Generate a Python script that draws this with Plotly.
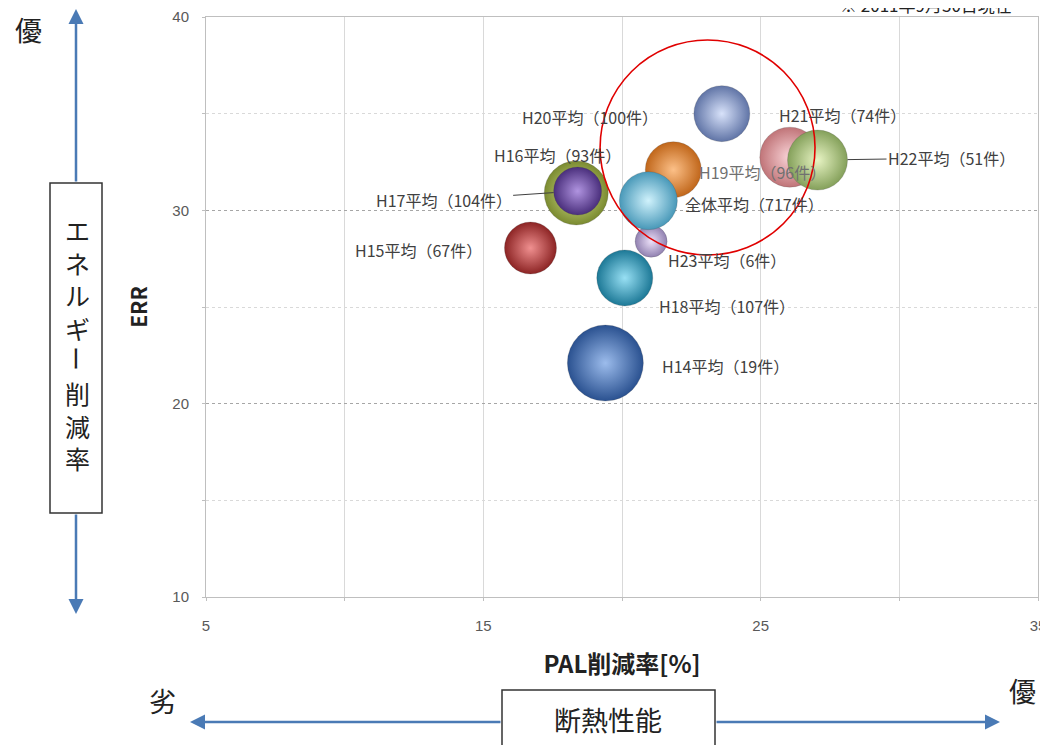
import plotly.graph_objects as go

# ---- data ----
labels = ["H14平均（19件）", "H15平均（67件）", "H16平均（93件）", "H17平均（104件）",
          "H18平均（107件）", "H19平均（96件）", "H20平均（100件）", "H21平均（74件）",
          "H22平均（51件）", "H23平均（6件）", "全体平均（717件）"]
pal_reduction = [19.4, 16.7, 18.35, 18.4, 20.1, 21.85, 23.6, 26.05, 27.05, 21.05, 20.95]
err_values = [22.1, 28.05, 30.9, 31.0, 26.5, 32.1, 35.0, 32.75, 32.6, 28.4, 30.5]
bubble_value = [76, 52, 64, 48, 56, 56, 56, 60, 60, 32, 58]

x_ticks = [5, 15, 25, 35]
y_ticks = [10, 20, 30, 40]

# ---- styles ----
edge_colors = ["#2a5190", "#8c2424", "#7a8a30", "#4a2f7c", "#1c7896", "#c0661a",
               "#6074a6", "#c07478", "#84a05a", "#9080b0", "#4898b8"]
center_colors = ["#9cbcec", "#f09090", "#dce890", "#b094e0", "#98e0f4", "#fcc088",
                 "#d8e2fa", "#fad4d8", "#e8f4c4", "#ece0f8", "#d0f2fc"]
label_shift = [(120, -3), (-112, -2), (-19, 38), None, (102, -28), (89, -2),
               (-132, -3), (53, 42), None, (76, -19), (106, -3)]
label_arrow = {3: (-134, 9), 8: (134, -2)}

OFF = 8  # page body margin
FW, FH = 1048 - OFF, 745 - OFF

fig = go.Figure()
fig.add_trace(go.Scatter(
    x=pal_reduction, y=err_values, mode="markers",
    marker=dict(size=bubble_value, sizemode="diameter", sizeref=1,
                color=edge_colors, opacity=1,
                gradient=dict(type="radial", color=center_colors),
                line=dict(width=0.5, color="rgba(60,60,60,0.4)")),
    hovertext=labels, showlegend=False))

ann = []
for i, lab in enumerate(labels):
    if i in label_arrow:
        ax, ay = label_arrow[i]
        ann.append(dict(x=pal_reduction[i], y=err_values[i], xref="x", yref="y",
                        text=lab, showarrow=True, arrowhead=0, arrowwidth=1,
                        arrowcolor="#404040", ax=ax, ay=ay,
                        standoff=bubble_value[i] / 2,
                        font=dict(family="Noto Sans CJK JP", size=16, color="#404040")))
    else:
        xs, ys = label_shift[i]
        c = "#707070" if i == 5 else "#404040"
        ann.append(dict(x=pal_reduction[i], y=err_values[i], xref="x", yref="y",
                        text=lab, showarrow=False, xshift=xs, yshift=ys,
                        xanchor="center", yanchor="middle",
                        font=dict(family="Noto Sans CJK JP", size=16, color=c)))

# helpers for pixel-placed decorations outside the plot (reference pixel coords)
L, T, W, H = 206 - OFF, 17 - OFF, 832, 580
def px(xp):
    return (xp - OFF - L) / W
def py(yp):
    return (T + H - (yp - OFF)) / H

arrow_col = "#4a7ab5"
def arrow(xh, yh, ax, ay):
    ann.append(dict(x=px(xh), y=py(yh), xref="paper", yref="paper", text="",
                    showarrow=True, arrowhead=2, arrowsize=1.2, arrowwidth=2.5,
                    arrowcolor=arrow_col, ax=ax, ay=ay))
arrow(76, 6, 0, 177)
arrow(76, 614, 0, -101)
arrow(190, 722, 312, 0)
arrow(1000, 722, -285, 0)

def text_at(xp, yp, t, size, color="#222222", angle=0):
    ann.append(dict(x=px(xp), y=py(yp), xref="paper", yref="paper", text=t,
                    showarrow=False, xanchor="center", yanchor="middle", textangle=angle,
                    borderpad=0,
                    font=dict(family="Noto Sans CJK JP", size=size, color=color)))

text_at(28, 30, "優", 27)
text_at(162, 700, "劣", 27)
text_at(1022, 690, "優", 27)
text_at(608, 719, "断熱性能", 27)
# vertical caption: エネルギー削減率 (the long-vowel mark is rotated as in vertical writing)
text_at(77, 279, "エ<br>ネ<br>ル<br>ギ", 25)
text_at(77, 358, "ー", 25, angle=90)
text_at(77, 425, "削<br>減<br>率", 25)
text_at(926, 5, "※ 2011年9月30日現在", 17, color="#222222")

shapes = [
    dict(type="rect", xref="paper", yref="paper", x0=px(50), x1=px(102), y0=py(183), y1=py(513),
         line=dict(color="#333333", width=1.5), fillcolor="white", layer="below"),
    dict(type="rect", xref="paper", yref="paper", x0=px(502), x1=px(715), y0=py(690), y1=py(760),
         line=dict(color="#333333", width=1.5), fillcolor="white", layer="below"),
    dict(type="circle", xref="x", yref="y", x0=19.21, x1=26.96, y0=27.69, y1=38.81,
         line=dict(color="#e00000", width=1.6)),
]

fig.update_layout(
    width=FW, height=FH,
    margin=dict(l=L, r=FW - L - W, t=T, b=FH - T - H, autoexpand=False),
    paper_bgcolor="white", plot_bgcolor="rgba(0,0,0,0)",
    font=dict(family="Noto Sans CJK JP"),
    annotations=ann, shapes=shapes,
    xaxis=dict(range=[5, 35], tickvals=x_ticks, showgrid=True, gridcolor="#d9d9d9",
               gridwidth=1, showline=True, linecolor="#bfbfbf", mirror=True,
               ticks="outside", ticklen=3, tickcolor="#bfbfbf", ticklabelstandoff=12,
               minor=dict(dtick=5, tick0=5, showgrid=True, gridcolor="#d9d9d9", ticks="outside",
                          ticklen=3, tickcolor="#bfbfbf"),
               zeroline=False, automargin=False,
               tickfont=dict(family="Liberation Sans", size=15, color="#595959"),
               title=dict(text="<b>PAL削減率[%]</b>", standoff=23,
                          font=dict(family="Noto Sans CJK JP", size=24, color="#222222"))),
    yaxis=dict(range=[10, 40], tickvals=y_ticks, showgrid=True, gridcolor="#a6a6a6",
               griddash="dot", gridwidth=1, showline=True, linecolor="#bfbfbf", mirror=True,
               ticks="outside", ticklen=3, tickcolor="#bfbfbf", ticklabelstandoff=10,
               minor=dict(dtick=5, tick0=10, showgrid=True, gridcolor="#d9d9d9", ticks="outside",
                          ticklen=3, tickcolor="#bfbfbf"),
               zeroline=False, automargin=False,
               tickfont=dict(family="Liberation Sans", size=15, color="#595959"),
               title=dict(text="<b>ERR</b>", standoff=18,
                          font=dict(family="Noto Sans CJK JP", size=21, color="#222222"))),
)

fig.write_html("out.html")
